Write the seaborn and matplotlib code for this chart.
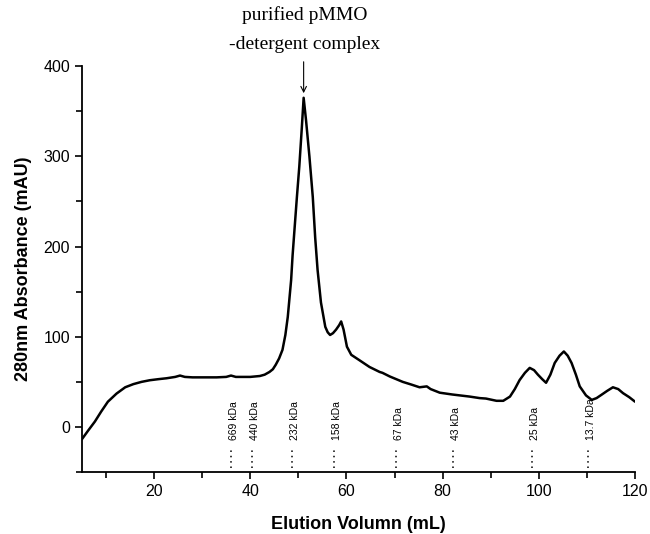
import numpy as np
import pandas as pd
import seaborn as sns
import matplotlib.pyplot as plt
from matplotlib.ticker import MultipleLocator

# Elution profile
volume = [5, 6.3, 7.7, 9, 10.4, 12.2, 14, 15.7, 17.4, 19.1, 20.9, 22.6, 24.4, 25.4, 26.4,
          28, 30, 33, 35, 36, 37, 40, 42, 43, 44, 44.7, 45.3, 46, 46.7, 47.3, 47.8,
          48.5, 48.8, 49.2, 49.7, 50.2, 50.7, 51.1, 51.6, 52.3, 53, 53.5, 54, 54.7,
          55.6, 56.1, 56.6, 57.2, 57.85, 58.5, 58.9, 59.4, 60.1, 61, 62.7, 64.8, 66.9,
          67.5, 69, 71.7, 73.5, 75.2, 76.7, 77.5, 79.4, 82, 85.6, 87.7, 89, 91.2, 92.6,
          94, 95, 96, 97.1, 98.1, 99, 99.8, 100.7, 101.5, 102.4, 103.3, 104.3, 105.2,
          106, 106.8, 107.7, 108.5, 109.8, 111, 112, 113, 114.2, 115.4, 116.5, 117.5,
          118.8, 120]
absorbance = [-13.6, -4, 6, 17, 28, 37, 44, 47.5, 50, 51.8, 53, 54, 55.5, 57, 55.5,
              55, 55, 55, 55.5, 57, 55.5, 55.5, 56.5, 58, 61, 64, 69, 76, 85.5, 102, 122,
              163, 190, 219, 255, 289, 330, 365, 340, 300, 255, 210, 174, 138,
              111, 105, 102, 104, 108, 113, 117, 108, 89, 80, 74, 66.5, 61,
              60, 56, 50, 47, 44, 45, 42, 38, 36, 33.7, 32, 31.5, 29, 29,
              33.7, 42, 52, 60, 65.5, 63, 58, 53, 49, 58, 71, 79, 83.7,
              79, 71, 58, 45, 35, 30, 32, 35.6, 40, 44, 42, 37.5,
              33, 28]

# Molecular weight standards
marker_labels = ["669 kDa", "440 kDa", "232 kDa", "158 kDa", "67 kDa", "43 kDa",
                 "25 kDa", "13.7 kDa"]
marker_volume = [36.0, 40.4, 48.75, 57.5, 70.4, 82.1, 98.5, 110.2]

df = pd.DataFrame({"volume": volume, "absorbance": absorbance})

sns.set_style("ticks")
plt.rcParams["font.family"] = ["Liberation Sans", "DejaVu Sans"]
plt.rcParams["text.color"] = "black"
plt.rcParams["axes.labelcolor"] = "black"
plt.rcParams["xtick.color"] = "black"
plt.rcParams["ytick.color"] = "black"

fig = plt.figure(figsize=(6.5, 5.34), dpi=100)
ax = fig.add_axes([0.126, 0.116, 0.851, 0.76])

sns.lineplot(data=df, x="volume", y="absorbance", sort=False, color="black",
             linewidth=1.8, ax=ax)
ax.lines[0].set_solid_joinstyle("round")

for lab, v in zip(marker_labels, marker_volume):
    ax.plot([v, v], [-46, -22], linestyle=(0, (1, 2.5)), color="black", linewidth=1.1)
    ax.text(v + 0.6, -14, lab, rotation=90, ha="center", va="bottom", fontsize=7.5)

ax.annotate("", xy=(51.1, 367), xytext=(51.1, 408),
            arrowprops=dict(arrowstyle="->", color="black", lw=0.8),
            annotation_clip=False)
fig.text(0.469, 0.972, "purified pMMO", ha="center", va="center", fontsize=14,
         family="Liberation Serif")
fig.text(0.469, 0.916, "-detergent complex", ha="center", va="center", fontsize=14,
         family="Liberation Serif")

ax.set_xlim(5, 120)
ax.set_ylim(-50, 400)
ax.xaxis.set_major_locator(MultipleLocator(20))
ax.xaxis.set_minor_locator(MultipleLocator(10))
ax.yaxis.set_major_locator(MultipleLocator(100))
ax.yaxis.set_minor_locator(MultipleLocator(50))
ax.tick_params(which="major", length=5, width=1.2, labelsize=11.5)
ax.tick_params(which="minor", length=4, width=1.2)
ax.set_xlabel("Elution Volumn (mL)", fontsize=13, fontweight="bold", labelpad=12)
ax.set_ylabel("280nm Absorbance (mAU)", fontsize=13, fontweight="bold", labelpad=8)
sns.despine(ax=ax)
for s in ["left", "bottom"]:
    ax.spines[s].set_linewidth(1.3)
    ax.spines[s].set_color("black")

plt.savefig("out.png", dpi=100)
